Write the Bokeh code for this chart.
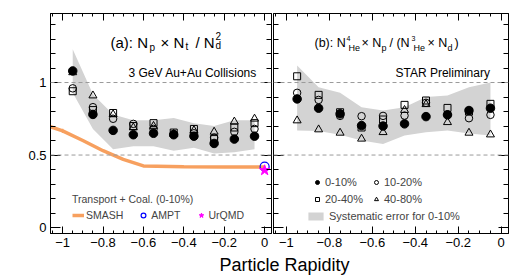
import numpy as np
from bokeh.plotting import figure
from bokeh.models import Range1d, LinearAxis, FixedTicker, Span, Label, Legend, LegendItem
from bokeh.layouts import column, row
from bokeh.embed import file_html
from bokeh.resources import INLINE

FONT = "Liberation Sans"

# ---------------- data ----------------
rapidity = [-0.95, -0.85, -0.75, -0.65, -0.55, -0.45, -0.35, -0.25, -0.15, -0.05]

# panel (a): Np x Nt / Nd^2
a_0_10 = [1.08, 0.78, 0.67, 0.64, 0.65, 0.64, 0.63, 0.58, 0.61, 0.63]
a_10_20 = [0.96, 0.83, 0.75, 0.715, 0.68, 0.645, 0.65, 0.62, 0.66, 0.68]
a_20_40 = [0.94, 0.81, 0.79, 0.70, 0.72, 0.655, 0.68, 0.61, 0.69, 0.72]
a_40_80 = [1.07, 0.91, 0.78, 0.69, 0.70, 0.645, 0.67, 0.66, 0.73, 0.75]
a_sys_hi = [1.23, 0.92, 0.78, 0.74, 0.74, 0.755, 0.72, 0.70, 0.74, 0.74]
a_sys_lo = [0.93, 0.68, 0.54, 0.56, 0.56, 0.53, 0.55, 0.51, 0.52, 0.54]

# panel (b): N4He x Np / (N3He x Nd)
b_0_10 = [0.887, 0.823, 0.784, 0.703, 0.70, 0.715, 0.765, 0.777, 0.807, 0.823]
b_10_20 = [0.929, 0.88, 0.77, 0.768, 0.77, 0.772, 0.86, 0.78, 0.754, 0.777]
b_20_40 = [1.043, 0.915, 0.795, 0.69, 0.745, 0.846, 0.876, 0.825, 0.80, 0.853]
b_40_80 = [0.738, 0.676, 0.653, 0.612, 0.657, 0.81, 0.85, 0.726, 0.653, 0.641]
b_sys_hi = [1.117, 0.967, 0.93, 0.83, 0.807, 0.83, 0.90, 0.91, 0.967, 1.0]
b_sys_lo = [0.669, 0.665, 0.64, 0.60, 0.577, 0.634, 0.657, 0.67, 0.648, 0.634]

# transport + coalescence (0-10%)
smash_x = [-1.06, -1.0, -0.9, -0.8, -0.7, -0.6, -0.4, -0.2, 0.0]
smash_y = [0.695, 0.667, 0.60, 0.53, 0.47, 0.425, 0.42, 0.418, 0.418]
smash_err_x = [-1.0]
smash_err_lo = [0.652]
smash_err_hi = [0.682]
ampt_x = [0.0]
ampt_y = [0.42]
urqmd_x = [0.0]
urqmd_y = [0.395]

# axes
x_ticks = [-1.0, -0.8, -0.6, -0.4, -0.2, 0.0]
x_tick_labels = ["\u22121", "\u22120.8", "\u22120.6", "\u22120.4", "\u22120.2", "0"]
y_ticks = [0.0, 0.5, 1.0]
y_tick_labels = ["0", "0.5", "1"]
x_minor = [round(v, 2) for v in np.arange(-1.05, 0.031, 0.05)]
y_minor = [round(v, 2) for v in np.arange(0.0, 1.45, 0.1)]

X_RANGE = (-1.06, 0.034)
Y_RANGE = (-0.041, 1.476)
FIG_H = 254
BAND = "#d3d3d3"
FB = 233          # frame bottom (page px)
FL1, FL2 = 50, 273  # frame left of each panel (page px)


def make_fig(width, mbl, mbr, ylabels):
    p = figure(width=width, height=FIG_H, x_range=Range1d(*X_RANGE), y_range=Range1d(*Y_RANGE),
               output_backend="svg", toolbar_location=None,
               min_border_left=mbl, min_border_right=mbr, min_border_top=13, min_border_bottom=21,
               x_axis_location=None, y_axis_location=None)
    p.grid.visible = False
    p.outline_line_color = "black"
    p.outline_line_width = 1
    p.background_fill_color = "white"
    p.border_fill_color = "white"

    def axis(ticks, minor, labels, tick_labels, tin, tmin):
        ax = LinearAxis(ticker=FixedTicker(ticks=ticks, minor_ticks=minor),
                        major_tick_in=tin, major_tick_out=0, minor_tick_in=tmin, minor_tick_out=0,
                        axis_line_color="black", major_tick_line_color="black",
                        minor_tick_line_color="black")
        if labels:
            ax.major_label_overrides = dict(zip(ticks, tick_labels))
            ax.major_label_text_font = FONT
            ax.major_label_text_font_size = "13px"
            ax.major_label_text_color = "black"
            ax.major_label_standoff = 4
        else:
            ax.major_label_text_font_size = "1px"
            ax.major_label_text_color = None
            ax.major_label_standoff = 0
        return ax

    p.add_layout(axis(x_ticks, x_minor, True, x_tick_labels, 7, 3), "below")
    p.add_layout(axis(x_ticks, x_minor, False, x_tick_labels, 7, 3), "above")
    p.add_layout(axis(y_ticks, y_minor, ylabels, y_tick_labels, 10, 5), "left")
    p.add_layout(axis(y_ticks, y_minor, False, y_tick_labels, 10, 5), "right")
    for lvl in (1.0, 0.5):
        p.add_layout(Span(location=lvl, dimension="width", line_color="#9a9a9a",
                          line_dash="4 3", line_width=1))
    return p


def points(p, lo, hi, c0, c1, c2, c3):
    band = p.varea(x=rapidity, y1=lo, y2=hi, fill_color=BAND)
    tri = p.scatter(rapidity, c3, marker="triangle", size=8, fill_color=None,
                    line_color="black", line_width=1)
    sq = p.scatter(rapidity, c2, marker="square", size=7, fill_color=None,
                   line_color="black", line_width=1)
    oc = p.scatter(rapidity, c1, marker="circle", size=7.5, fill_color=None,
                   line_color="black", line_width=1)
    fc = p.scatter(rapidity, c0, marker="circle", size=8.5, fill_color="black",
                   line_color="black")
    return band, fc, oc, sq, tri


def txt(p, fl, px, py, text, size, baseline="alphabetic", align="left", angle=0):
    # screen units of a Label are measured from the frame's bottom-left corner
    p.add_layout(Label(x=px - fl, y=FB - py, x_units="screen", y_units="screen", text=text,
                       text_font=FONT, text_font_size=f"{size}px", text_color="black",
                       text_baseline=baseline, text_align=align, angle=angle))


# ---------------- left panel ----------------
p1 = make_fig(272, FL1, 1, True)
points(p1, a_sys_lo, a_sys_hi, a_0_10, a_10_20, a_20_40, a_40_80)
r_smash = p1.line(smash_x, smash_y, line_color="#f7a05f", line_width=3.5)
p1.segment(x0=smash_err_x, y0=smash_err_lo, x1=smash_err_x, y1=smash_err_hi,
           line_color="#f7a05f", line_width=1.5)
r_ampt = p1.scatter(ampt_x, ampt_y, marker="circle", size=9, fill_color=None,
                    line_color="#0000ff", line_width=1.2)
r_urqmd = p1.scatter(urqmd_x, urqmd_y, marker="star", size=11, fill_color="#ff00ff",
                     line_color="#ff00ff")

leg1 = Legend(items=[LegendItem(label="SMASH", renderers=[r_smash]),
                     LegendItem(label="AMPT", renderers=[r_ampt]),
                     LegendItem(label="UrQMD", renderers=[r_urqmd])],
              orientation="horizontal", title="Transport + Coal. (0-10%)",
              location=(22, 12), background_fill_alpha=0, border_line_alpha=0,
              padding=0, margin=0, spacing=14, label_standoff=2,
              glyph_width=12, glyph_height=12, label_height=12,
              label_text_font=FONT, label_text_font_size="10.5px",
              title_text_font=FONT, title_text_font_size="10.5px",
              title_text_font_style="normal", title_standoff=4)
p1.add_layout(leg1)

txt(p1, FL1, 23, 122, "Yield Ratio", 19, baseline="middle", align="center", angle=np.pi / 2)
txt(p1, FL1, 110, 42, "(a): N", 15)
txt(p1, FL1, 149, 47, "p", 10)
txt(p1, FL1, 160, 42, "\u00d7 N", 15)
txt(p1, FL1, 185, 46, "t", 10)
txt(p1, FL1, 195, 42, "/ N", 15)
txt(p1, FL1, 215, 35, "2", 10)
txt(p1, FL1, 215, 45, "d", 10)
txt(p1, FL1, 128, 72.5, "3 GeV Au+Au Collisions", 12)

# ---------------- right panel ----------------
p2 = make_fig(240, 1, 4, False)
band2, fc2, oc2, sq2, tri2 = points(p2, b_sys_lo, b_sys_hi, b_0_10, b_10_20, b_20_40, b_40_80)

common = dict(background_fill_alpha=0, border_line_alpha=0, padding=0, margin=0,
              label_text_font=FONT, label_text_font_size="11px")
legA = Legend(items=[LegendItem(label="0-10%", renderers=[fc2]),
                     LegendItem(label="20-40%", renderers=[sq2])],
              location=(39, 27), spacing=3, label_standoff=3,
              glyph_width=10, glyph_height=14, label_height=14, **common)
legB = Legend(items=[LegendItem(label="10-20%", renderers=[oc2]),
                     LegendItem(label="40-80%", renderers=[tri2])],
              location=(98, 27), spacing=3, label_standoff=3,
              glyph_width=10, glyph_height=14, label_height=14, **common)
legC = Legend(items=[LegendItem(label="Systematic error for 0-10%", renderers=[band2])],
              location=(33, 11), label_standoff=4,
              glyph_width=19, glyph_height=10, label_height=10, **common)
for lg in (legA, legB, legC):
    p2.add_layout(lg)

txt(p2, FL2, 314, 42, "(b): N", 12.5)
txt(p2, FL2, 346, 38, "4", 7)
txt(p2, FL2, 348, 47, "He", 9)
txt(p2, FL2, 361, 42, "\u00d7 N", 12.5)
txt(p2, FL2, 381, 47, "p", 9)
txt(p2, FL2, 389, 42, "/ (N", 12.5)
txt(p2, FL2, 411, 38, "3", 7)
txt(p2, FL2, 413, 47, "He", 9)
txt(p2, FL2, 427, 42, "\u00d7 N", 12.5)
txt(p2, FL2, 447, 47, "d", 9)
txt(p2, FL2, 454, 42, ")", 12.5)
txt(p2, FL2, 395, 72.5, "STAR Preliminary", 12)

# ---------------- x-axis title strip ----------------
p3 = figure(width=512, height=26, x_range=Range1d(0, 1), y_range=Range1d(0, 1),
            output_backend="svg", toolbar_location=None, min_border=0,
            x_axis_location=None, y_axis_location=None)
p3.grid.visible = False
p3.outline_line_color = None
p3.add_layout(Label(x=219, y=16, x_units="screen", y_units="screen", text="Particle Rapidity",
                    text_font=FONT, text_font_size="18px", text_color="black",
                    text_baseline="alphabetic", text_align="left"))

layout = column(row(p1, p2), p3)
open("out.html", "w").write(file_html(layout, INLINE))
